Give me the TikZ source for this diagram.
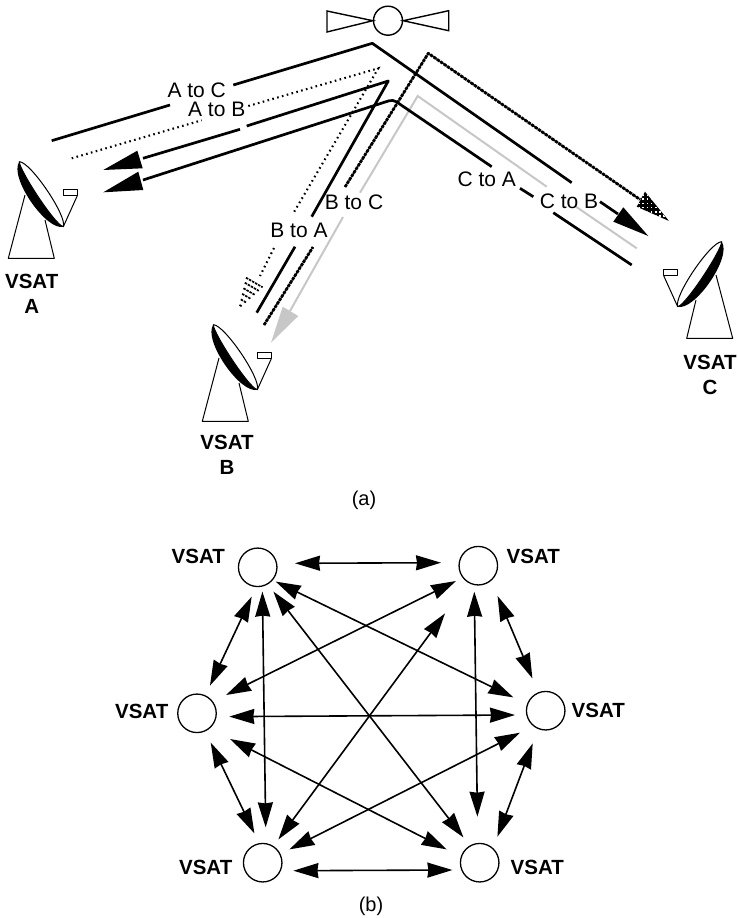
\documentclass[tikz,border=0pt]{standalone}
\usepackage{fontspec}
\setmainfont{Liberation Sans}
\usetikzlibrary{arrows.meta}
\newcommand{\dishshape}{%
  \fill[black] (19.3,161.7) .. controls (30.5,161.7) and (67.5,216.3) .. (63.3,226.7)
     .. controls (46.5,231.5) and (8.5,176.9) .. cycle;
  \draw[dishline,fill=white] (19.3,161.7) .. controls (30.5,161.7) and (67.5,216.3) .. (63.3,226.7)
     .. controls (54.8,224.9) and (19,169.5) .. cycle;
  \draw[dishline] (25,195) -- (8.3,258.3) -- (54.3,258.3) -- (45,220);
  \draw[dishline] (63.3,189) rectangle (77.3,195.7);
  \draw[dishline] (77.3,195.7) -- (63.3,226.7);
}
\tikzset{
  dishline/.style={line width=1pt,line join=round},
  beam/.style={line width=2.7pt,line join=round},
  greybeam/.style={line width=2pt,draw=beamgrey,line join=miter},
  dotbeam/.style={line width=2.1pt,dash pattern=on 1.6pt off 3.4pt},
  dashbeam/.style={line width=2.8pt,dash pattern=on 3pt off 1.1pt,line join=round},
  lab/.style={inner sep=0pt,font=\fontsize{21}{24}\selectfont},
  vsat/.style={inner sep=0pt,align=center,font=\fontsize{20.5}{24.5}\selectfont\bfseries},
  figcap/.style={inner sep=0pt,font=\fontsize{20}{24}\selectfont},
  station/.style={circle,draw,line width=1.3pt,minimum size=38.5pt,inner sep=0pt},
  dbl/.style={line width=1.6pt,{Stealth[length=25pt,width=15pt,inset=1pt]}-{Stealth[length=25pt,width=15pt,inset=1pt]}},
}
\definecolor{beamgrey}{gray}{0.78}
\begin{document}
\begin{tikzpicture}[x=1pt,y=-1pt]
\useasboundingbox (0,0) rectangle (738,918);
% satellite
\node[circle,draw,line width=1.4pt,minimum size=29pt,inner sep=0pt] (sat) at (388,20.7) {};
\draw[line width=1.4pt,line join=miter] (sat.west) -- (327,32) -- (327,11) -- cycle;
\draw[line width=1.4pt,line join=miter] (sat.east) -- (448.7,30.7) -- (448.7,10.7) -- cycle;
% dishes
\dishshape
\begin{scope}[shift={(194,163)}]\dishshape\end{scope}
\begin{scope}[shift={(741,80)},xscale=-1]\dishshape\end{scope}
% grey beam
\draw[greybeam] (636.7,248.3) -- (576,206.7);
\draw[greybeam] (546.7,186.7) -- (417.7,96) -- (360,192.7);
\draw[greybeam] (343,217) -- (290,311);
\fill[beamgrey] (271,342.7) -- (282.7,306.7) -- (298.3,316) -- cycle;
% A to C
\draw[beam] (51.7,140.7) -- (170,105);
\draw[beam] (233.3,85) -- (372.3,43.3) -- (571.7,182.7);
\draw[beam] (600,201.7) -- (618,214);
\fill (648.3,236) -- (623.3,207.3) -- (613.3,221.7) -- cycle;
% A to B / B to A dotted
\draw[dotbeam] (71.7,158.3) -- (201.7,120.3);
\draw[dotbeam] (248.3,106) -- (378.3,68.3) -- (293.3,213.3);
\draw[dotbeam] (274,248) -- (260,276);
\foreach \t in {5,10.5,16,21.5,27,32}
  \draw[line width=1.7pt,dash pattern=on 2.5pt off 1pt] ({238.3+.5*\t-.26*\t},{310-.86*\t-.15*\t}) -- ({238.3+.5*\t+.26*\t},{310-.86*\t+.15*\t});
% B to A black
\draw[beam] (256.7,312.7) -- (295,246.7);
\draw[beam] (311.7,216.7) -- (388.3,81) -- (246.7,126);
\draw[beam] (240,129.3) -- (143,158.3);
\fill (103.3,170) -- (137.3,150.7) -- (142.7,168.3) -- cycle;
% C to A black
\draw[beam] (631.7,265) -- (553.3,212.7);
\draw[beam] (533.3,196.7) -- (520,188.3);
\draw[beam,rounded corners=4pt] (491.7,166.7) -- (393,99.5) -- (143,180);
\fill (103.3,192.3) -- (138.3,171.7) -- (143.3,190) -- cycle;
% B to C dash
\draw[dashbeam] (264,325) -- (313,247);
\draw[line width=1.1pt] (264,325) -- (313,247);
\draw[dashbeam] (345,187) -- (428.3,53.3) -- (640,199.5);
\draw[line width=1.1pt,line join=round] (345,187) -- (428.3,53.3) -- (640,199.5);
\fill (669,221) -- (645,191.7) -- (636.7,206.7) -- cycle;
\begin{scope}
  \clip (669,221) -- (645,191.7) -- (636.7,206.7) -- cycle;
  \foreach \i in {0,...,8} \foreach \j in {0,...,7}
    \fill[white] ({634+\i*4.2+\j*0.0},{190+\j*4.2}) rectangle +(1.5,1.5);
\end{scope}
% labels
\node[lab] (ac) at (196.7,90) {A to C};
\node[lab] (ab) at (216.7,109.3) {A to B};
\node[lab] (ba) at (299,230) {B to A};
\node[lab] (bc) at (354,202) {B to C};
\node[lab] (ca) at (486.7,179.3) {C to A};
\node[lab] (cb) at (569,201) {C to B};
\node[vsat] (va) at (31.7,294) {VSAT\\A};
\node[vsat] (vb) at (227,455) {VSAT\\B};
\node[vsat] (vc) at (710,375) {VSAT\\C};
\node[figcap] (capa) at (364,500) {(a)};
% part b
\node[station] (TL) at (257.7,567.3) {};
\node[station] (TR) at (478.3,565.7) {};
\node[station] (L) at (197,713.3) {};
\node[station] (R) at (545.7,710.7) {};
\node[station] (BL) at (262.7,862.7) {};
\node[station] (BR) at (479.7,862.7) {};
\node[vsat] (vTL) at (198.3,556) {VSAT};
\node[vsat] (vTR) at (533.3,556) {VSAT};
\node[vsat] (vL) at (141.7,711) {VSAT};
\node[vsat] (vR) at (598.3,710.7) {VSAT};
\node[vsat] (vBL) at (205.7,867.7) {VSAT};
\node[vsat] (vBR) at (537.3,867.7) {VSAT};
\draw[dbl] ([shift={(37.3,-4)}]TL.center) -- ([shift={(-37.3,-3)}]TR.center);
\draw[dbl] ([shift={(-6,29.3)}]TL.center) -- ([shift={(13,-27.7)}]L.center);
\draw[dbl] ([shift={(4.7,24.3)}]TL.center) -- ([shift={(3,-35.3)}]BL.center);
\draw[dbl] ([shift={(15.7,24.3)}]TL.center) -- ([shift={(-16.3,-25.3)}]BR.center);
\draw[dbl] ([shift={(18,14.3)}]TL.center) -- ([shift={(-32.3,-13.3)}]R.center);
\draw[dbl] ([shift={(-22.3,15.3)}]TR.center) -- ([shift={(29,-18.3)}]L.center);
\draw[dbl] ([shift={(-33.3,47.7)}]TR.center) -- ([shift={(15.7,-23.3)}]BL.center);
\draw[dbl] ([shift={(-4,26)}]TR.center) -- ([shift={(-2.3,-46)}]BR.center);
\draw[dbl] ([shift={(19.3,30.3)}]TR.center) -- ([shift={(-13.3,-32.3)}]R.center);
\draw[dbl] ([shift={(32.3,3.3)}]L.center) -- ([shift={(-30.7,4.3)}]R.center);
\draw[dbl] ([shift={(13.7,29.3)}]L.center) -- ([shift={(-8.3,-29.3)}]BL.center);
\draw[dbl] ([shift={(33,25.7)}]L.center) -- ([shift={(-33,-13.3)}]BR.center);
\draw[dbl] ([shift={(-25.7,22)}]R.center) -- ([shift={(26.7,-13.3)}]BL.center);
\draw[dbl] ([shift={(-13,32.7)}]R.center) -- ([shift={(17.7,-26)}]BR.center);
\draw[dbl] ([shift={(30.7,8)}]BL.center) -- ([shift={(-27.3,7.3)}]BR.center);
\node[figcap] (capb) at (371,906) {(b)};
\end{tikzpicture}
\end{document}
